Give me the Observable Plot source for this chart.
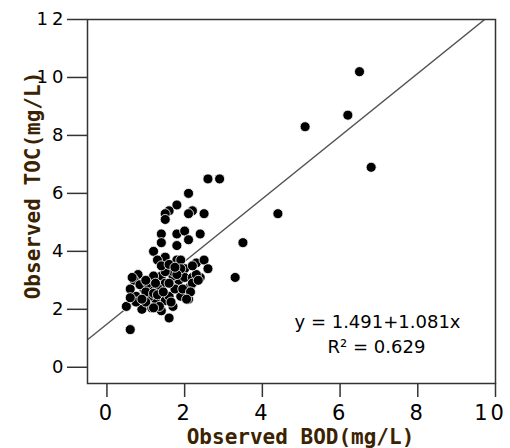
<!DOCTYPE html>
<html><head><meta charset="utf-8">
<script src="https://cdn.jsdelivr.net/npm/d3@7"></script>
<script src="https://cdn.jsdelivr.net/npm/@observablehq/plot@0.6"></script>
<style>body{margin:0;background:#fff} #chart{width:510px;height:448px}</style>
</head><body><div id="chart"></div>
<script>
const bod = [6.5,6.2,5.1,6.8,4.4,3.5,3.3,2.6,2.9,2.1,1.8,1.6,1.5,2.2,2.1,2.5,1.5,1.4,1.8,2.0,2.4,2.1,1.4,1.8,1.2,
  1.5,1.3,1.8,1.9,2.3,2.5,2.0,2.6,0.6,1.6,0.5,0.8,0.7,2.4,2.15,2.1,1.9,1.7,1.4,1.15,0.9,1.25,1.5,1.6,1.85,
  2.0,1.7,1.4,1.2,1.5,1.3,1.1,0.95,0.75,0.6,0.85,1.05,1.1,1.0,1.35,0.75,1.75,1.95,2.2,1.9,1.7,1.5,2.2,2.15,2.05,
  1.65,1.2,0.6,0.65,1.0,1.2,0.9,1.3,1.45,1.6,1.8,2.3,2.35,1.25,1.0,1.4,1.6,2.2,1.75];
const toc = [10.2,8.7,8.3,6.9,5.3,4.3,3.1,6.5,6.5,6.0,5.6,5.4,5.3,5.4,5.3,5.3,5.1,4.6,4.6,4.7,4.6,4.4,4.3,4.2,4.0,
  3.8,3.7,3.7,3.7,3.6,3.7,3.4,3.4,1.3,1.7,2.1,3.2,3.0,3.1,2.8,2.35,2.45,2.1,1.95,2.05,2.0,2.35,2.3,2.45,3.0,
  3.1,3.15,3.15,3.15,2.9,2.75,2.7,2.7,2.45,2.7,2.85,2.9,2.45,2.25,2.1,2.25,2.7,2.7,3.1,3.4,3.3,3.3,2.9,2.6,2.35,
  2.25,2.05,2.4,3.1,2.6,2.55,2.35,2.5,2.6,2.9,3.2,3.2,3.0,2.9,3.0,3.5,3.55,3.5,3.45];
const xTicks = [0,2,4,6,8,10];
const yTicks = [0,2,4,6,8,10,12];
const intercept = 1.491;
const slope = 1.081;
const rSquared = 0.629;
const xTitle = "Observed BOD(mg/L)";
const yTitle = "Observed TOC(mg/L)";
const xDomain = [-0.5, 10];
const yDomain = [-0.56, 12];

const points = bod.map((b, i) => ({bod: b, toc: toc[i]}));
const fit = [xDomain[0], (yDomain[1] - intercept) / slope].map(x => ({x, y: intercept + slope * x}));
const titleColor = "#3b2200";

const plot = Plot.plot({
  width: 510, height: 448,
  marginLeft: 87, marginTop: 19, marginRight: 15, marginBottom: 65,
  style: {fontFamily: "DejaVu Sans", color: "#000", background: "#fff", overflow: "visible"},
  x: {domain: xDomain},
  y: {domain: yDomain},
  marks: [
    Plot.axisX({ticks: xTicks, tickSize: 14, tickPadding: 8, fontSize: 21, label: null, stroke: "#333", strokeWidth: 1.5}),
    Plot.axisY({ticks: yTicks, tickSize: 20, tickPadding: 0, fontSize: 18, label: null, stroke: "#333", strokeWidth: 1.5}),
    Plot.line(fit, {x: "x", y: "y", stroke: "#555", strokeWidth: 1.5, clip: true}),
    Plot.dot(points, {x: "bod", y: "toc", r: 5, fill: "#000", stroke: "#fff", strokeWidth: 0.8}),
    Plot.frame({stroke: "#333", strokeWidth: 1.5}),
    Plot.text([`y = ${intercept}+${slope}x`], {frameAnchor: "bottom-right", text: d => d, dx: -118, dy: -61.5, fontSize: 18, textAnchor: "middle", lineAnchor: "middle", fill: "#000"}),
    Plot.text([`R² = ${rSquared}`], {frameAnchor: "bottom-right", text: d => d, dx: -119, dy: -36.5, fontSize: 18, textAnchor: "middle", lineAnchor: "middle", fill: "#000"}),
    Plot.text([xTitle], {frameAnchor: "bottom", text: d => d, dx: 9, dy: 54, fontSize: 21, fontWeight: "bold", fontFamily: "DejaVu Sans Mono", textAnchor: "middle", lineAnchor: "middle", fill: titleColor}),
    Plot.text([yTitle], {frameAnchor: "left", text: d => d, rotate: -90, dx: -54, dy: -16, fontSize: 21, fontWeight: "bold", fontFamily: "DejaVu Sans Mono", textAnchor: "middle", lineAnchor: "middle", fill: titleColor})
  ]
});
const xLabels = d3.select(plot).selectAll('g[aria-label="x-axis tick label"] text').style("letter-spacing", "3px");
xLabels.filter((d, i, nodes) => i === nodes.length - 1).attr("dx", "-5");
d3.select(plot).selectAll('g[aria-label="y-axis tick label"] text').style("letter-spacing", "4px");
document.getElementById("chart").appendChild(plot);
</script>
</body></html>
